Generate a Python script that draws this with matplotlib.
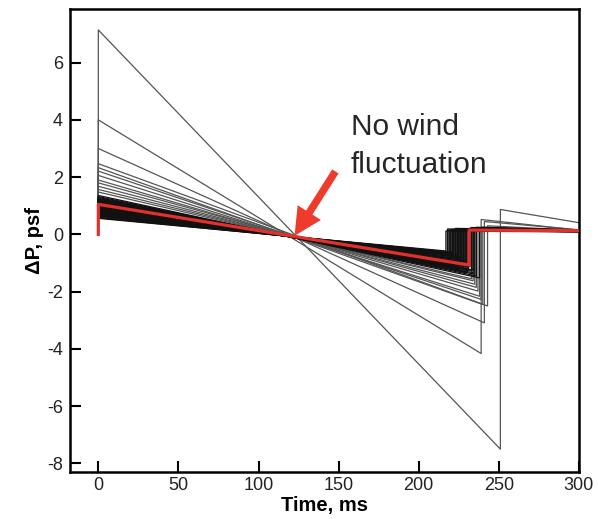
import numpy as np
import matplotlib.pyplot as plt

plt.rcParams['font.family'] = ['Liberation Sans', 'DejaVu Sans']
plt.rcParams['axes.unicode_minus'] = False

# N-wave signatures: peak overpressure at t=0, linear expansion down to the
# tail minimum, rear shock at shock_t back up to post, then on to end at 300 ms
peak = [7.14, 4.00, 3.00, 2.47, 2.33, 2.21, 2.06, 1.90, 1.80, 1.68, 1.57, 1.48,
        0.56, 0.60, 0.63, 0.66, 0.68, 0.71, 0.73, 0.75, 0.78, 0.80, 0.82, 0.84,
        0.86, 0.88, 0.90, 0.92, 0.94, 0.96, 0.98, 1.00, 1.02, 1.04, 1.07, 1.09,
        1.11, 1.13, 1.15, 1.18, 1.20, 1.23, 1.26, 1.29, 1.32, 1.36,
        0.58, 0.65, 0.70, 0.77, 0.83, 0.89, 0.95, 1.01, 1.06, 1.12, 1.17, 1.25]
tail_min = [-7.50, -4.16, -3.09, -2.50, -2.45, -2.27, -2.16, -1.98, -1.85, -1.74, -1.62, -1.55,
            -0.58, -0.62, -0.66, -0.66, -0.73, -0.71, -0.80, -0.76, -0.75, -0.88, -0.84, -0.87,
            -0.83, -0.97, -0.82, -0.96, -0.93, -1.07, -0.93, -1.03, -1.08, -1.03, -1.15, -1.12,
            -1.24, -1.10, -1.20, -1.28, -1.22, -1.30, -1.39, -1.33, -1.45, -1.52,
            -0.63, -0.70, -0.72, -0.82, -0.86, -0.92, -0.99, -1.04, -1.13, -1.16, -1.23, -1.34]
shock_t = [251, 239, 241, 243, 240, 239, 238, 237, 236, 235, 234, 233,
           217, 219, 221, 218, 224, 220, 226, 222, 219, 228, 223, 225,
           221, 230, 218, 227, 224, 232, 220, 226, 229, 223, 231, 225,
           234, 222, 228, 233, 226, 230, 235, 229, 236, 238,
           222, 225, 221, 227, 224, 229, 226, 228, 232, 227, 231, 234]
post = [0.87, 0.52, 0.45, 0.30, 0.26, 0.24, 0.22, 0.20, 0.19, 0.18, 0.17, 0.16,
        0.12, 0.14, 0.11, 0.15, 0.13, 0.16, 0.12, 0.18, 0.14, 0.15, 0.20, 0.13,
        0.17, 0.14, 0.19, 0.12, 0.16, 0.22, 0.13, 0.18, 0.15, 0.21, 0.14, 0.17,
        0.19, 0.13, 0.16, 0.24, 0.15, 0.18, 0.20, 0.14, 0.25, 0.22,
        0.13, 0.16, 0.12, 0.17, 0.15, 0.19, 0.14, 0.18, 0.21, 0.16, 0.20, 0.23]
end = [0.41, 0.15, 0.16, 0.14, 0.13, 0.12, 0.12, 0.11, 0.12, 0.11, 0.10, 0.12,
       0.10, 0.11, 0.09, 0.12, 0.10, 0.12, 0.10, 0.13, 0.11, 0.12, 0.14, 0.10,
       0.12, 0.11, 0.13, 0.10, 0.12, 0.15, 0.10, 0.13, 0.11, 0.14, 0.11, 0.12,
       0.13, 0.10, 0.12, 0.15, 0.11, 0.13, 0.14, 0.11, 0.16, 0.15,
       0.10, 0.12, 0.10, 0.13, 0.11, 0.14, 0.11, 0.13, 0.15, 0.12, 0.14, 0.15]

# reference case without wind fluctuation
ref_peak, ref_min, ref_t, ref_post, ref_end = 1.05, -1.07, 231.5, 0.15, 0.13

t_end = 300

fig = plt.figure(figsize=(5.98, 5.19), dpi=100)
ax = fig.add_axes([0.117, 0.091, 0.851, 0.891])

for p, m, ts, r, e in zip(peak, tail_min, shock_t, post, end):
    # the big signatures are few and read lighter than the dense bundle
    col = '#555555' if p > 1.4 else '#111111'
    ax.plot([0, 0, ts, ts, t_end], [0, p, m, r, e], color=col, lw=0.9)

ax.plot([0, 0, ref_t, ref_t, t_end], [0, ref_peak, ref_min, ref_post, ref_end],
        color='#e3302b', lw=2.3, zorder=5)

ax.annotate('', xy=(122.5, -0.05), xytext=(148, 2.2),
            arrowprops=dict(arrowstyle='simple,head_width=1.1,head_length=1.1,tail_width=0.3',
                            color='#ee3b2c', lw=0, shrinkA=0, shrinkB=0, mutation_scale=18),
            zorder=6)
ax.text(157.5, 3.46, 'No wind', fontsize=21.5, color='#262626', ha='left', va='baseline')
ax.text(157.5, 2.16, 'fluctuation', fontsize=21.5, color='#262626', ha='left', va='baseline')

ax.set_xlim(-17.7, 300)
ax.set_ylim(-8.29, 7.86)
ax.set_xticks(np.arange(0, 301, 50))
ax.set_yticks(np.arange(-8, 7, 2))
ax.tick_params(direction='in', length=8, width=1.5, labelsize=13, pad=5,
               labelcolor='#222222')
ax.tick_params(axis='x', pad=4)
for s in ax.spines.values():
    s.set_linewidth(1.8)

ax.set_xlabel('Time, ms', fontsize=14.5, fontweight='bold', labelpad=1)
ax.set_ylabel('ΔP, psf', fontsize=14.5, fontweight='bold', labelpad=2)

fig.savefig('out.png', dpi=100)
